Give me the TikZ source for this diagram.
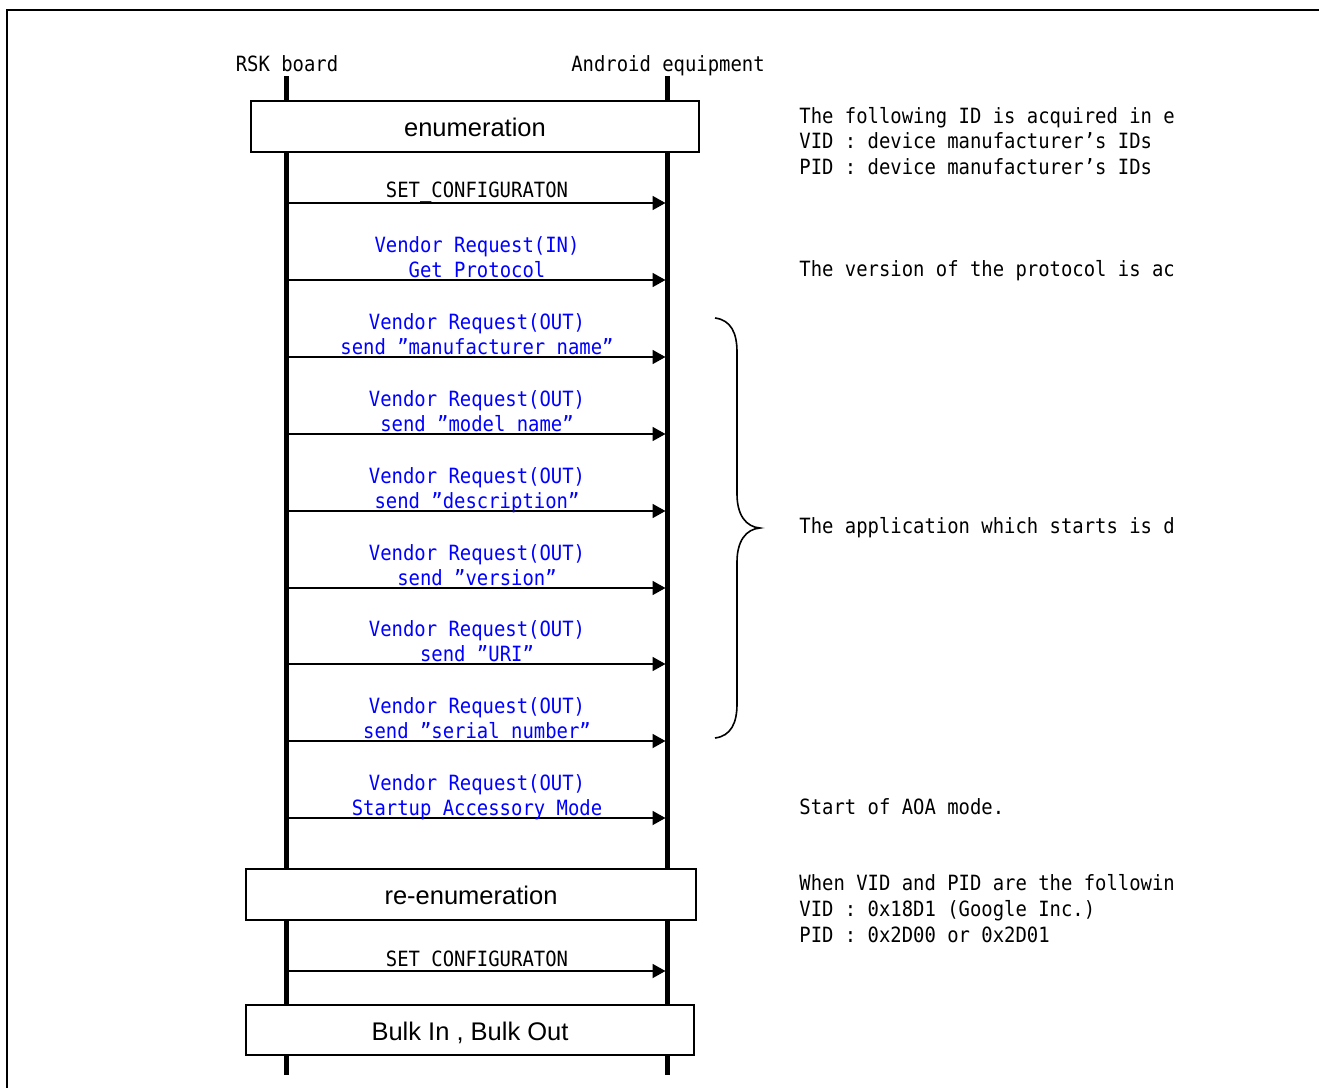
\documentclass[tikz,border=0pt]{standalone}
\usepackage{fontspec}
\setmainfont{Liberation Sans}
\newfontfamily\gothic[FakeStretch=0.9]{DejaVu Sans Mono}
\usetikzlibrary{arrows.meta}
\begin{document}
\begin{tikzpicture}[x=0.5pt,y=-0.5pt,
  mono/.style={font=\gothic\fontsize{10.5}{12.75}\selectfont, inner sep=0pt},
  lbl/.style={mono, anchor=base},
  blbl/.style={lbl, text=blue},
  note/.style={mono, anchor=base west},
  life/.style={line width=2.5pt},
  phase/.style={draw, line width=0.8pt, fill=white, font=\fontsize{12.75}{15}\selectfont, inner sep=0pt, text height=1.0em, text depth=0pt},
  msg/.style={line width=0.9pt, -{Triangle[length=6.5pt,width=7pt]}},
  frameline/.style={line width=1pt},
  bracepath/.style={line width=0.8pt}
]
\useasboundingbox (0,0) rectangle (1319,1088);
% frame
\coordinate (fbl) at (7,1088);
\coordinate (ftl) at (7,10);
\coordinate (ftr) at (1319,10);
\draw[frameline] (fbl) -- (ftl) -- (ftr);

% lifeline heads
\node[lbl] (rsk) at (287,71) {RSK board};
\node[lbl] (android) at (668,71) {Android equipment};

% lifelines
\coordinate (Ltop) at (286,76);
\coordinate (Lbot) at (286,1075);
\coordinate (Rtop) at (667.5,76);
\coordinate (Rbot) at (667.5,1075);
\draw[life] (Ltop) -- (Lbot);
\draw[life] (Rtop) -- (Rbot);

% phase boxes
\node[phase, minimum width=224pt, minimum height=25.5pt] (enum) at (475,126.5) {enumeration};
\node[phase, minimum width=225pt, minimum height=25.5pt] (reenum) at (471,894.5) {re-enumeration};
\node[phase, minimum width=224pt, minimum height=25pt] (bulk) at (470,1030) {Bulk In , Bulk Out};

% messages
\foreach \y/\n in {203/1,280/2,357/3,434/4,511/5,588/6,664/7,741/8,818/9,971/10}{
  \coordinate (s\n) at (287,\y);
  \coordinate (e\n) at (665.5,\y);
  \draw[msg] (s\n) -- (e\n);
}

% labels
\node[lbl] (t1) at (477,197) {SET\_CONFIGURATON};
\node[blbl] (t2a) at (477,252) {Vendor Request(IN)};
\node[blbl] (t2b) at (477,277) {Get Protocol};
\node[blbl] (t3a) at (477,329) {Vendor Request(OUT)};
\node[blbl] (t3b) at (477,354) {send ”manufacturer name”};
\node[blbl] (t4a) at (477,406) {Vendor Request(OUT)};
\node[blbl] (t4b) at (477,431) {send ”model name”};
\node[blbl] (t5a) at (477,483) {Vendor Request(OUT)};
\node[blbl] (t5b) at (477,508) {send ”description”};
\node[blbl] (t6a) at (477,560) {Vendor Request(OUT)};
\node[blbl] (t6b) at (477,585) {send ”version”};
\node[blbl] (t7a) at (477,636) {Vendor Request(OUT)};
\node[blbl] (t7b) at (477,661) {send ”URI”};
\node[blbl] (t8a) at (477,713) {Vendor Request(OUT)};
\node[blbl] (t8b) at (477,738) {send ”serial number”};
\node[blbl] (t9a) at (477,790) {Vendor Request(OUT)};
\node[blbl] (t9b) at (477,815) {Startup Accessory Mode};
\node[lbl] (t10) at (477,966) {SET\_CONFIGURATON};

% brace
\draw[bracepath] (715,318) .. controls (731,320) and (737,333) .. (737,352)
  -- (737,494) .. controls (737,515) and (746,527) .. (760,528)
  .. controls (746,529) and (737,541) .. (737,562)
  -- (737,704) .. controls (737,723) and (731,736) .. (715,738);

% notes
\node[note] (n1) at (799,123) {The following ID is acquired in e};
\node[note] (n2) at (799,148.5) {VID : device manufacturer’s IDs};
\node[note] (n3) at (799,174) {PID : device manufacturer’s IDs};
\node[note] (n4) at (799,276) {The version of the protocol is ac};
\node[note] (n5) at (799,533) {The application which starts is d};
\node[note] (n6) at (799,814) {Start of AOA mode.};
\node[note] (n7) at (799,890) {When VID and PID are the followin};
\node[note] (n8) at (799,916) {VID : 0x18D1 (Google Inc.)};
\node[note] (n9) at (799,942) {PID : 0x2D00 or 0x2D01};
\end{tikzpicture}
\end{document}
